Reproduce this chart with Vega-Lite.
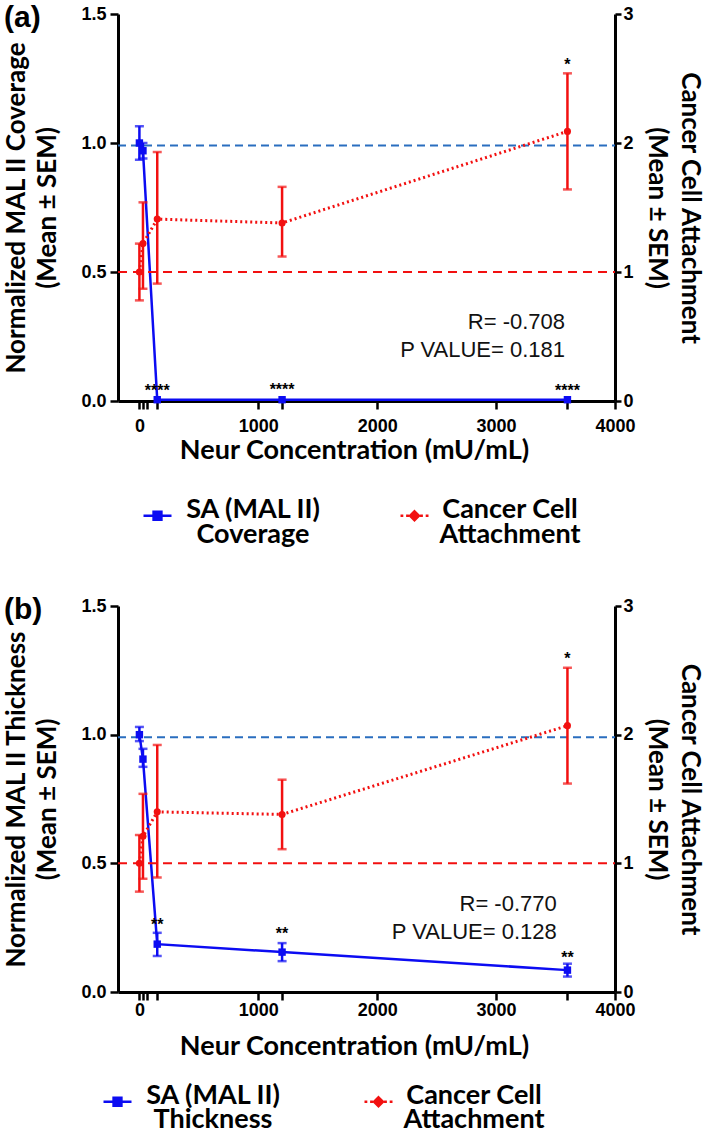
{
  "$schema": "https://vega.github.io/schema/vega-lite/v6.json",
  "background": "white",
  "padding": {"left": 3, "top": 3, "right": 0, "bottom": 0},
  "bounds": "flush",
  "spacing": 205,
  "config": {
    "view": {"stroke": null},
    "axis": {
      "domainColor": "black", "domainWidth": 3, "tickColor": "black", "tickWidth": 2.5, "tickSize": 8,
      "labelFont": "Liberation Sans", "labelFontWeight": "bold", "labelFontSize": 18, "labelColor": "black",
      "titleFont": "Lato", "titleFontWeight": "bold", "titleFontSize": 26, "titleColor": "black", "grid": false
    },
    "title": {"font": "Liberation Sans", "fontSize": 30, "fontWeight": "bold", "color": "black", "anchor": "start", "frame": "bounds", "offset": -28}
  },
  "datasets": {
    "cov": [
      {"x": 0, "y": 1.0, "lo": 0.935, "hi": 1.065},
      {"x": 30, "y": 0.97, "lo": 0.94, "hi": 1.0},
      {"x": 150, "y": 0.005},
      {"x": 1200, "y": 0.005},
      {"x": 3600, "y": 0.005}
    ],
    "thk": [
      {"x": 0, "y": 1.0, "lo": 0.975, "hi": 1.03},
      {"x": 30, "y": 0.905, "lo": 0.875, "hi": 0.945},
      {"x": 150, "y": 0.186, "lo": 0.14, "hi": 0.23},
      {"x": 1200, "y": 0.155, "lo": 0.12, "hi": 0.19},
      {"x": 3600, "y": 0.085, "lo": 0.06, "hi": 0.11}
    ],
    "att_a": [
      {"x": 0, "y": 1.0, "lo": 0.78, "hi": 1.22},
      {"x": 30, "y": 1.22, "lo": 0.87, "hi": 1.54},
      {"x": 150, "y": 1.41, "lo": 0.91, "hi": 1.93},
      {"x": 1200, "y": 1.38, "lo": 1.12, "hi": 1.66},
      {"x": 3600, "y": 2.09, "lo": 1.64, "hi": 2.54}
    ],
    "att_b": [
      {"x": 0, "y": 1.0, "lo": 0.78, "hi": 1.22},
      {"x": 30, "y": 1.21, "lo": 0.88, "hi": 1.54},
      {"x": 150, "y": 1.40, "lo": 0.89, "hi": 1.92},
      {"x": 1200, "y": 1.38, "lo": 1.11, "hi": 1.65},
      {"x": 3600, "y": 2.07, "lo": 1.62, "hi": 2.52}
    ],
    "notes_a": [
      {"x": 3580, "y": 0.28, "text": "R= -0.708"},
      {"x": 3580, "y": 0.17, "text": "P VALUE= 0.181"}
    ],
    "notes_b": [
      {"x": 3510, "y": 0.314, "text": "R= -0.770"},
      {"x": 3510, "y": 0.205, "text": "P VALUE= 0.128"}
    ],
    "stars_a": [
      {"x": 150, "y": 0.02, "text": "****"},
      {"x": 1200, "y": 0.025, "text": "****"},
      {"x": 3600, "y": 0.02, "text": "****"},
      {"x": 3600, "y": 1.283, "text": "*"}
    ],
    "stars_b": [
      {"x": 150, "y": 0.24, "text": "**"},
      {"x": 1200, "y": 0.205, "text": "**"},
      {"x": 3600, "y": 0.112, "text": "**"},
      {"x": 3600, "y": 1.275, "text": "*"}
    ],
    "refs_left": [{"x": -180, "x2": 4000, "y": 0.99}],
    "refs_right": [{"x": -180, "x2": 4000, "y": 1.0}]
  },
  "vconcat": [
    {
      "title": {"text": "(a)"},
      "width": 497,
      "height": 387,
      "encoding": {
        "x": {"field": "x", "type": "quantitative", "scale": {"domain": [-180, 4000], "nice": false, "zero": false},
          "axis": {"values": [0, 30, 60, 150, 1000, 1200, 2000, 3000, 3600, 4000],
            "labelExpr": "indexof([0,1000,2000,3000,4000], datum.value) >= 0 ? datum.label : ''",
            "format": "d", "labelOverlap": false, "labelFlush": false, "labelPadding": 8,
            "title": "Neur Concentration (mU/mL)", "titleFontSize": 27, "titlePadding": 2, "titleX": 236, "titleAlign": "center"}}
      },
      "layer": [
        {
          "encoding": {
            "y": {"field": "y", "type": "quantitative", "scale": {"domain": [0, 1.5], "nice": false, "zero": false},
              "axis": {"orient": "left", "values": [0, 0.5, 1, 1.5], "format": ".1f", "labelPadding": 4,
                "title": ["Normalized MAL II Coverage", "(Mean ± SEM)"], "titleLineHeight": 31, "titlePadding": 20}}
          },
          "layer": [
            {"data": {"name": "refs_left"}, "mark": {"type": "rule", "color": "#2a6ebf", "strokeWidth": 2, "strokeDash": [8, 5]},
              "encoding": {"x2": {"field": "x2"}}},
            {"data": {"name": "cov"}, "mark": {"type": "line", "strokeWidth": 2.5},
              "encoding": {"color": {"datum": "SA (MAL II) Coverage", "type": "nominal",
                "scale": {"domain": ["SA (MAL II) Coverage", "Cancer Cell Attachment"], "range": ["#0c0cf2", "#f21010"]},
                "legend": {"orient": "none", "legendX": 24, "legendY": 486, "direction": "horizontal", "columns": 2, "title": null,
                  "symbolSize": 784, "symbolStrokeWidth": 2.5, "labelFont": "Lato", "labelFontWeight": "bold", "labelFontSize": 27,
                  "labelColor": "black", "labelAlign": "center", "labelOffset": 80, "columnPadding": 74, "labelLimit": 300,
                  "labelExpr": "datum.value == 'Cancer Cell Attachment' ? ['Cancer Cell', 'Attachment'] : ['SA (MAL II)', 'Coverage']",
                  "encode": {
                    "symbols": {"update": {
                      "shape": {"signal": "datum.value == 'Cancer Cell Attachment' ? 'M-1,0H-0.8M-0.6,0H-0.4M0.4,0H0.6M0.8,0H1M0,-0.32L0.32,0L0,0.32L-0.32,0Z' : 'M-1,0H1M-0.28,-0.28H0.28V0.28H-0.28Z'"},
                      "fill": {"signal": "datum.value == 'Cancer Cell Attachment' ? '#f21010' : '#0c0cf2'"},
                      "stroke": {"signal": "datum.value == 'Cancer Cell Attachment' ? '#f21010' : '#0c0cf2'"},
                      "opacity": {"value": 1}}},
                    "labels": {"update": {"lineHeight": {"value": 25}, "dy": {"value": -6}}}
                  }}}}},
            {"data": {"name": "cov"}, "transform": [{"filter": "isValid(datum.lo)"}], "mark": {"type": "rule", "color": "#0c0cf2", "strokeWidth": 2.5},
              "encoding": {"y": {"field": "lo", "type": "quantitative", "scale": {"domain": [0, 1.5], "nice": false, "zero": false}}, "y2": {"field": "hi"}}},
            {"data": {"name": "cov"}, "transform": [{"filter": "isValid(datum.lo)"}, {"fold": ["lo", "hi"], "as": ["k", "v"]}],
              "mark": {"type": "tick", "orient": "horizontal", "color": "#0c0cf2", "size": 9, "thickness": 2.5},
              "encoding": {"y": {"field": "v", "type": "quantitative", "scale": {"domain": [0, 1.5], "nice": false, "zero": false}}}},
            {"data": {"name": "cov"}, "mark": {"type": "point", "shape": "square", "filled": true, "size": 55, "color": "#0c0cf2", "opacity": 1}},
            {"data": {"name": "notes_a"}, "mark": {"type": "text", "align": "right", "baseline": "alphabetic", "font": "Liberation Sans", "fontSize": 22, "color": "#111"},
              "encoding": {"text": {"field": "text"}}},
            {"data": {"name": "stars_a"}, "mark": {"type": "text", "align": "center", "baseline": "alphabetic", "font": "Liberation Sans", "fontWeight": "bold", "fontSize": 16, "color": "black"},
              "encoding": {"text": {"field": "text"}}}
          ]
        },
        {
          "encoding": {
            "y": {"field": "y", "type": "quantitative", "scale": {"domain": [0, 3], "nice": false, "zero": false},
              "axis": {"orient": "right", "values": [0, 1, 2, 3], "format": "d", "tickSize": 6, "labelPadding": 2,
                "title": ["Cancer Cell Attachment", "(Mean ± SEM)"], "titleLineHeight": 33, "titlePadding": 10}}
          },
          "layer": [
            {"data": {"name": "refs_right"}, "mark": {"type": "rule", "color": "#f21010", "strokeWidth": 2, "strokeDash": [9, 6]},
              "encoding": {"x2": {"field": "x2"}}},
            {"data": {"name": "att_a"}, "mark": {"type": "line", "strokeWidth": 3, "strokeDash": [2, 3]},
              "encoding": {"color": {"datum": "Cancer Cell Attachment", "type": "nominal"}}},
            {"data": {"name": "att_a"}, "mark": {"type": "rule", "color": "#f21010", "strokeWidth": 2.5},
              "encoding": {"y": {"field": "lo", "type": "quantitative", "scale": {"domain": [0, 3], "nice": false, "zero": false}}, "y2": {"field": "hi"}}},
            {"data": {"name": "att_a"}, "transform": [{"fold": ["lo", "hi"], "as": ["k", "v"]}],
              "mark": {"type": "tick", "orient": "horizontal", "color": "#f21010", "size": 9, "thickness": 2.5},
              "encoding": {"y": {"field": "v", "type": "quantitative", "scale": {"domain": [0, 3], "nice": false, "zero": false}}}},
            {"data": {"name": "att_a"}, "mark": {"type": "point", "shape": "circle", "filled": true, "size": 50, "color": "#f21010", "opacity": 1}}
          ]
        }
      ],
      "resolve": {"scale": {"y": "independent"}}
    },
    {
      "title": {"text": "(b)"},
      "width": 497,
      "height": 386,
      "encoding": {
        "x": {"field": "x", "type": "quantitative", "scale": {"domain": [-180, 4000], "nice": false, "zero": false},
          "axis": {"values": [0, 30, 60, 150, 1000, 1200, 2000, 3000, 3600, 4000],
            "labelExpr": "indexof([0,1000,2000,3000,4000], datum.value) >= 0 ? datum.label : ''",
            "format": "d", "labelOverlap": false, "labelFlush": false, "labelPadding": 1,
            "title": "Neur Concentration (mU/mL)", "titleFontSize": 27, "titlePadding": 14, "titleX": 236, "titleAlign": "center"}}
      },
      "layer": [
        {
          "encoding": {
            "y": {"field": "y", "type": "quantitative", "scale": {"domain": [0, 1.5], "nice": false, "zero": false},
              "axis": {"orient": "left", "values": [0, 0.5, 1, 1.5], "format": ".1f", "labelPadding": 4,
                "title": ["Normalized MAL II Thickness", "(Mean ± SEM)"], "titleLineHeight": 31, "titlePadding": 20}}
          },
          "layer": [
            {"data": {"name": "refs_left"}, "mark": {"type": "rule", "color": "#2a6ebf", "strokeWidth": 2, "strokeDash": [8, 5]},
              "encoding": {"x2": {"field": "x2"}}},
            {"data": {"name": "thk"}, "mark": {"type": "line", "strokeWidth": 2.5},
              "encoding": {"color": {"datum": "SA (MAL II) Thickness", "type": "nominal",
                "scale": {"domain": ["SA (MAL II) Thickness", "Cancer Cell Attachment"], "range": ["#0c0cf2", "#f21010"]},
                "legend": {"orient": "none", "legendX": -16, "legendY": 480, "direction": "horizontal", "columns": 2, "title": null,
                  "symbolSize": 784, "symbolStrokeWidth": 2.5, "labelFont": "Lato", "labelFontWeight": "bold", "labelFontSize": 27,
                  "labelColor": "black", "labelAlign": "center", "labelOffset": 80, "columnPadding": 78, "labelLimit": 300,
                  "labelExpr": "datum.value == 'Cancer Cell Attachment' ? ['Cancer Cell', 'Attachment'] : ['SA (MAL II)', 'Thickness']",
                  "encode": {
                    "symbols": {"update": {
                      "shape": {"signal": "datum.value == 'Cancer Cell Attachment' ? 'M-1,0H-0.8M-0.6,0H-0.4M0.4,0H0.6M0.8,0H1M0,-0.32L0.32,0L0,0.32L-0.32,0Z' : 'M-1,0H1M-0.28,-0.28H0.28V0.28H-0.28Z'"},
                      "fill": {"signal": "datum.value == 'Cancer Cell Attachment' ? '#f21010' : '#0c0cf2'"},
                      "stroke": {"signal": "datum.value == 'Cancer Cell Attachment' ? '#f21010' : '#0c0cf2'"},
                      "opacity": {"value": 1}}},
                    "labels": {"update": {"lineHeight": {"value": 24}, "dy": {"value": -6}}}
                  }}}}},
            {"data": {"name": "thk"}, "transform": [{"filter": "isValid(datum.lo)"}], "mark": {"type": "rule", "color": "#0c0cf2", "strokeWidth": 2.5},
              "encoding": {"y": {"field": "lo", "type": "quantitative", "scale": {"domain": [0, 1.5], "nice": false, "zero": false}}, "y2": {"field": "hi"}}},
            {"data": {"name": "thk"}, "transform": [{"filter": "isValid(datum.lo)"}, {"fold": ["lo", "hi"], "as": ["k", "v"]}],
              "mark": {"type": "tick", "orient": "horizontal", "color": "#0c0cf2", "size": 9, "thickness": 2.5},
              "encoding": {"y": {"field": "v", "type": "quantitative", "scale": {"domain": [0, 1.5], "nice": false, "zero": false}}}},
            {"data": {"name": "thk"}, "mark": {"type": "point", "shape": "square", "filled": true, "size": 55, "color": "#0c0cf2", "opacity": 1}},
            {"data": {"name": "notes_b"}, "mark": {"type": "text", "align": "right", "baseline": "alphabetic", "font": "Liberation Sans", "fontSize": 22, "color": "#111"},
              "encoding": {"text": {"field": "text"}}},
            {"data": {"name": "stars_b"}, "mark": {"type": "text", "align": "center", "baseline": "alphabetic", "font": "Liberation Sans", "fontWeight": "bold", "fontSize": 16, "color": "black"},
              "encoding": {"text": {"field": "text"}}}
          ]
        },
        {
          "encoding": {
            "y": {"field": "y", "type": "quantitative", "scale": {"domain": [0, 3], "nice": false, "zero": false},
              "axis": {"orient": "right", "values": [0, 1, 2, 3], "format": "d", "tickSize": 6, "labelPadding": 2,
                "title": ["Cancer Cell Attachment", "(Mean ± SEM)"], "titleLineHeight": 33, "titlePadding": 10}}
          },
          "layer": [
            {"data": {"name": "refs_right"}, "mark": {"type": "rule", "color": "#f21010", "strokeWidth": 2, "strokeDash": [9, 6]},
              "encoding": {"x2": {"field": "x2"}}},
            {"data": {"name": "att_b"}, "mark": {"type": "line", "strokeWidth": 3, "strokeDash": [2, 3]},
              "encoding": {"color": {"datum": "Cancer Cell Attachment", "type": "nominal"}}},
            {"data": {"name": "att_b"}, "mark": {"type": "rule", "color": "#f21010", "strokeWidth": 2.5},
              "encoding": {"y": {"field": "lo", "type": "quantitative", "scale": {"domain": [0, 3], "nice": false, "zero": false}}, "y2": {"field": "hi"}}},
            {"data": {"name": "att_b"}, "transform": [{"fold": ["lo", "hi"], "as": ["k", "v"]}],
              "mark": {"type": "tick", "orient": "horizontal", "color": "#f21010", "size": 9, "thickness": 2.5},
              "encoding": {"y": {"field": "v", "type": "quantitative", "scale": {"domain": [0, 3], "nice": false, "zero": false}}}},
            {"data": {"name": "att_b"}, "mark": {"type": "point", "shape": "circle", "filled": true, "size": 50, "color": "#f21010", "opacity": 1}}
          ]
        }
      ],
      "resolve": {"scale": {"y": "independent"}}
    }
  ],
  "resolve": {"scale": {"color": "independent"}, "legend": {"color": "independent"}}
}
